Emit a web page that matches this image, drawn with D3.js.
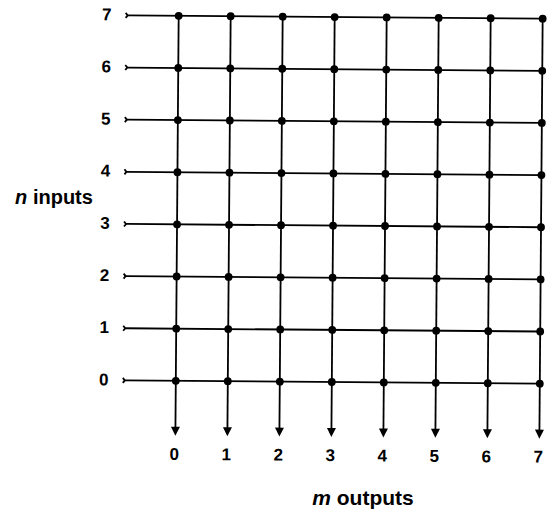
<!DOCTYPE html>
<html><head><meta charset="utf-8">
<script src="https://cdn.jsdelivr.net/npm/d3@7"></script>
<style>body{margin:0;background:#fff}svg{display:block}text{font-family:"Liberation Sans",Arial,sans-serif;font-weight:bold;fill:#000}</style>
</head><body>
<script>
const inputs = [0,1,2,3,4,5,6,7];
const outputs = [0,1,2,3,4,5,6,7];
const inputLabels = ["0","1","2","3","4","5","6","7"];
const outputLabels = ["0","1","2","3","4","5","6","7"];

const W = 547, H = 516;
const svg = d3.select("body").append("svg").attr("width", W).attr("height", H);
const g = svg.append("g").attr("transform", "rotate(0.45 330 230)");

const x = d3.scaleLinear().domain([0,7]).range([177, 541]);
const y = d3.scaleLinear().domain([0,7]).range([382, 17]);
const xLeft = 126, arrowTip = 437;

g.selectAll(".hl").data(inputs).join("line")
  .attr("x1", xLeft).attr("x2", x(7)).attr("y1", d=>y(d)).attr("y2", d=>y(d))
  .attr("stroke", "#000").attr("stroke-width", 1.8);
g.selectAll(".lt").data(inputs).join("path")
  .attr("d", d=>`M${xLeft-2},${y(d)-2.5} L${xLeft},${y(d)} L${xLeft-2},${y(d)+2.5}`)
  .attr("fill","none").attr("stroke", "#000").attr("stroke-width", 1.8);
g.selectAll(".vl").data(outputs).join("line")
  .attr("x1", d=>x(d)).attr("x2", d=>x(d)).attr("y1", y(7)).attr("y2", arrowTip-6)
  .attr("stroke", "#000").attr("stroke-width", 1.8);
g.selectAll(".ah").data(outputs).join("path")
  .attr("d", d=>`M${x(d)-4.5},${arrowTip-9} L${x(d)+4.5},${arrowTip-9} L${x(d)},${arrowTip} Z`)
  .attr("fill", "#000");
const pts = [];
inputs.forEach(i => outputs.forEach(o => pts.push({i, o})));
g.selectAll(".dot").data(pts).join("circle")
  .attr("cx", d=>x(d.o)).attr("cy", d=>y(d.i)).attr("r", 3.9).attr("fill", "#000");
g.selectAll(".il").data(inputs).join("text")
  .attr("x", 105).attr("y", d=>y(d) + 5)
  .attr("text-anchor", "middle").attr("font-size", 17).text(d=>inputLabels[d]);
g.selectAll(".ol").data(outputs).join("text")
  .attr("x", d=>x(d) - 1).attr("y", 461)
  .attr("text-anchor", "middle").attr("font-size", 17).text(d=>outputLabels[d]);
const t1 = svg.append("text").attr("x", 54).attr("y", 204)
  .attr("text-anchor","middle").attr("font-size", 20);
t1.append("tspan").attr("font-style","italic").text("n");
t1.append("tspan").text(" inputs");
const t2 = svg.append("text").attr("x", 363).attr("y", 505)
  .attr("text-anchor","middle").attr("font-size", 21);
t2.append("tspan").attr("font-style","italic").text("m");
t2.append("tspan").text(" outputs");
</script>
</body></html>
